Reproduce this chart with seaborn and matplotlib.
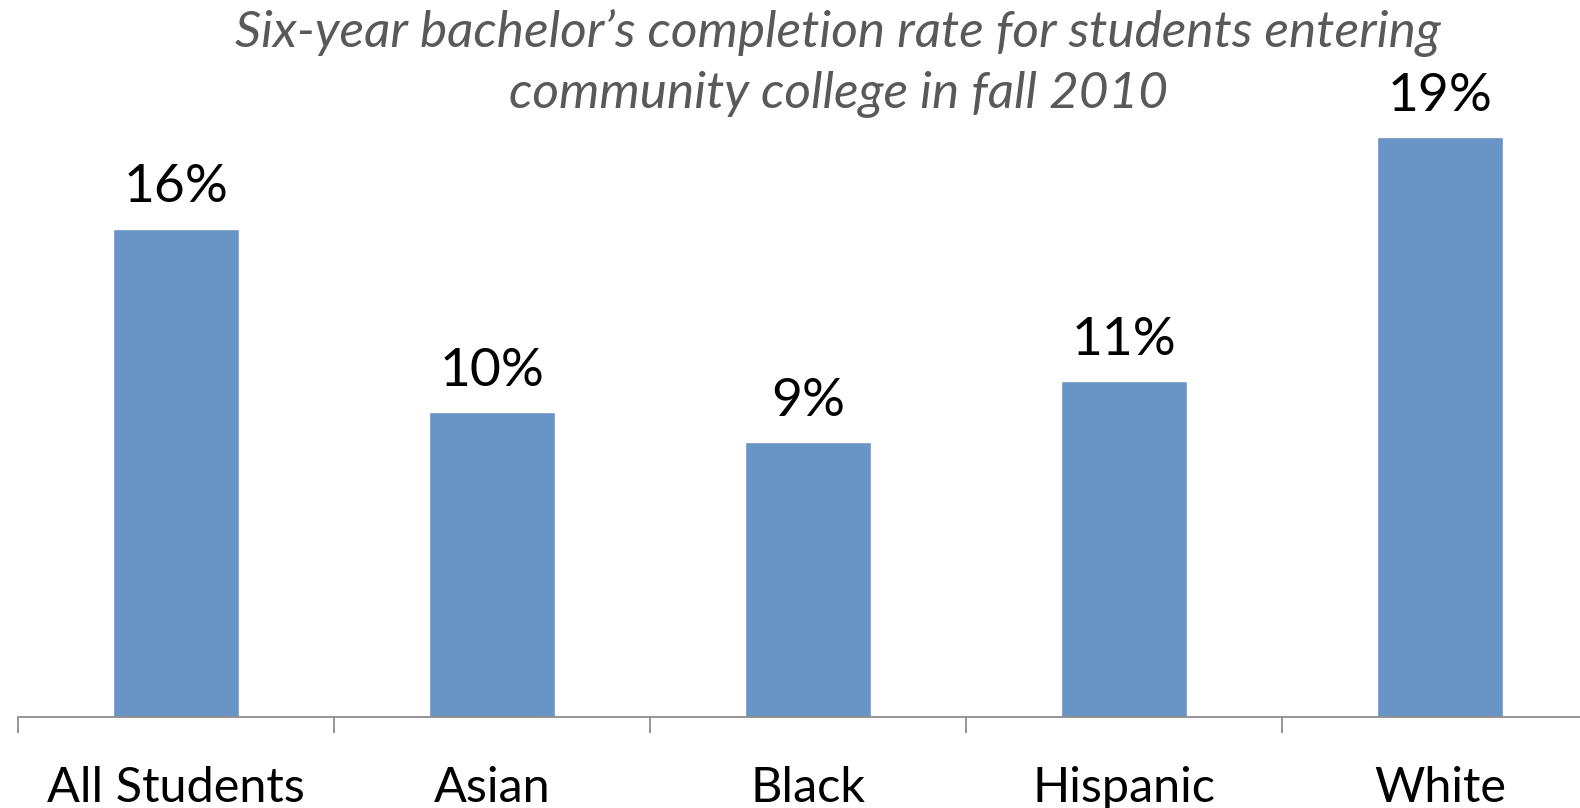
import matplotlib
matplotlib.use("Agg")
import matplotlib.pyplot as plt
import seaborn as sns
import pandas as pd
from matplotlib.ticker import FixedLocator

groups = ["All Students", "Asian", "Black", "Hispanic", "White"]
rates = [16, 10, 9, 11, 19]
value_labels = ["16%", "10%", "9%", "11%", "19%"]
title_lines = ["Six-year bachelor\u2019s completion rate for students entering",
               "community college in fall 2010"]

sns.set_theme(style="white")
plt.rcParams["font.family"] = ["Lato", "DejaVu Sans"]

df = pd.DataFrame({"group": groups, "rate": rates})

W, H = 1580, 808
fig = plt.figure(figsize=(W / 100, H / 100), dpi=100)
# the category axis runs slightly past the right edge of the figure
ax = fig.add_axes([18 / W, 1 - 717 / H, 5 * 316 / W, 717 / H])

sns.barplot(data=df, x="group", y="rate", color="#6894C6", saturation=1,
            width=0.4, ax=ax)

ax.set_xlim(-0.5, 4.5)
ax.set_ylim(0, 23.5)
ax.set_xlabel("")
ax.set_ylabel("")
ax.set_yticks([])
for side in ["top", "right", "left"]:
    ax.spines[side].set_visible(False)
ax.spines["bottom"].set_color("#8C8C8C")
ax.spines["bottom"].set_linewidth(1.3)

# category labels without tick marks; boundary ticks between categories
ax.tick_params(axis="x", which="major", length=0, pad=35.5, labelsize=35,
               labelcolor="black")
ax.xaxis.set_minor_locator(FixedLocator([i - 0.5 for i in range(len(groups) + 1)]))
ax.tick_params(axis="x", which="minor", length=11.5, width=1.3, color="#8C8C8C",
               direction="out", bottom=True)

for i, (v, lab) in enumerate(zip(rates, value_labels)):
    ax.annotate(lab, xy=(i, v), xytext=(0, 19), textcoords="offset points",
                ha="center", va="baseline", fontsize=38.5, color="black")

for line, base in zip(title_lines, [47, 108]):
    fig.text(838 / W, 1 - base / H, line, ha="center", va="baseline",
             fontsize=37, style="italic", color="#595959")

fig.savefig("out.png", dpi=100)
